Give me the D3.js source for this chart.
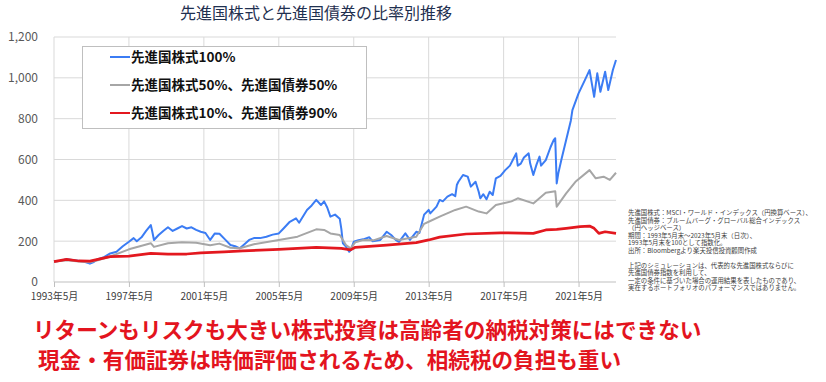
<!DOCTYPE html>
<html><head><meta charset="utf-8">
<script src="https://cdn.jsdelivr.net/npm/d3@7"></script>
<style>
html,body{margin:0;padding:0;background:#fff;}
svg{display:block;font-family:"Noto Sans CJK JP","Noto Sans",sans-serif;}
</style></head>
<body>
<script>
// ---- data ----
const titleText = "先進国株式と先進国債券の比率別推移";
const seriesNames = ["先進国株式100%", "先進国株式50%、先進国債券50%", "先進国株式10%、先進国債券90%"];
const seriesColors = ["#3b7cf4", "#a6a6a6", "#e3181f"];

const stockDates = ["1993-05","1993-09","1994-01","1994-06","1994-12","1995-04","1995-06","1995-09","1996-01","1996-05","1996-09","1997-01","1997-05","1997-08","1997-10","1998-01","1998-04","1998-07","1998-08","1998-09","1998-12","1999-03","1999-06","1999-09","1999-12","2000-03","2000-06","2000-09","2000-12","2001-03","2001-06","2001-09","2001-12","2002-03","2002-07","2002-10","2003-01","2003-04","2003-07","2003-10","2004-01","2004-05","2004-09","2005-01","2005-05","2005-08","2005-12","2006-04","2006-06","2006-11","2007-02","2007-05","2007-08","2007-10","2007-12","2008-02","2008-05","2008-08","2008-09","2008-10","2008-12","2009-02","2009-03","2009-05","2009-08","2009-11","2010-03","2010-05","2010-10","2011-02","2011-05","2011-08","2011-10","2012-02","2012-05","2012-09","2012-11","2013-02","2013-05","2013-06","2013-10","2013-12","2014-02","2014-05","2014-08","2014-10","2014-11","2014-12","2015-03","2015-06","2015-08","2015-11","2016-01","2016-02","2016-04","2016-06","2016-08","2016-10","2016-12","2017-03","2017-06","2017-09","2017-11","2018-01","2018-02","2018-04","2018-06","2018-09","2018-10","2018-12","2019-02","2019-04","2019-05","2019-08","2019-11","2020-01","2020-02","2020-03","2020-04","2020-06","2020-09","2020-12","2021-01","2021-05","2021-09","2021-12","2022-03","2022-05","2022-07","2022-10","2022-12","2023-03","2023-05"];
const stockValues = [100,104,111,106,100,90,96,112,122,140,148,175,197,215,200,219,250,279,245,206,230,250,268,250,262,274,262,268,255,246,240,206,238,236,205,181,175,165,185,206,215,215,222,232,238,262,295,312,290,353,375,402,377,395,365,320,330,310,260,190,173,148,155,197,205,209,219,200,206,246,230,205,197,238,206,246,240,330,353,336,369,402,395,418,430,420,475,491,524,516,467,491,442,410,430,405,442,426,508,520,548,570,600,630,570,580,610,630,580,524,575,614,570,597,660,695,704,483,532,600,695,790,842,924,989,1038,907,1022,932,1030,940,1038,1087];

const balancedDates = ["1993-05","1994-01","1994-09","1995-04","1995-09","1996-05","1997-05","1998-07","1998-09","1999-06","2000-03","2000-12","2001-09","2002-03","2002-10","2003-04","2004-01","2005-05","2006-05","2007-05","2007-10","2008-02","2008-08","2008-12","2009-03","2009-06","2009-11","2010-06","2011-02","2011-10","2012-09","2013-02","2013-05","2013-12","2014-10","2015-05","2016-01","2016-06","2016-12","2017-10","2018-02","2018-12","2019-08","2020-02","2020-03","2020-09","2021-03","2021-12","2022-04","2022-09","2023-01","2023-05"];
const balancedValues = [100,106,101,97,106,125,160,190,172,190,195,192,180,188,168,165,185,206,222,258,255,238,230,181,165,195,206,205,225,206,222,285,295,320,353,369,345,336,377,395,410,385,437,445,369,434,491,548,508,516,500,535];

const bondDates = ["1993-05","1994-01","1994-09","1995-04","1996-05","1997-05","1998-07","1999-06","2000-06","2001-03","2002-06","2003-06","2005-05","2007-05","2008-09","2009-03","2009-06","2011-02","2012-09","2013-05","2013-12","2015-05","2017-03","2018-12","2019-08","2020-03","2020-09","2021-06","2021-12","2022-03","2022-06","2022-10","2023-05"];
const bondValues = [100,111,103,102,124,127,140,137,137,143,148,152,160,170,165,157,170,181,193,206,220,235,241,238,255,258,263,271,274,263,238,246,238];

const yTicks = [0,200,400,600,800,1000,1200];
const xTickDates = ["1993-05","1997-05","2001-05","2005-05","2009-05","2013-05","2017-05","2021-05"];
const xTickLabels = ["1993年5月","1997年5月","2001年5月","2005年5月","2009年5月","2013年5月","2017年5月","2021年5月"];

const noteLines = [
 "先進国株式：MSCI・ワールド・インデックス（円換算ベース）、",
 "先進国債券：ブルームバーグ・グローバル総合インデックス",
 "（円ヘッジベース）",
 "期間：1993年5月末～2023年5月末（日次）、",
 "1993年5月末を100として指数化。",
 "出所：Bloombergより楽天投信投資顧問作成",
 "",
 "上記のシミュレーションは、代表的な先進国株式ならびに",
 "先進国債券指数を利用して、",
 "一定の条件に基づいた場合の運用結果を表したものであり、",
 "実在するポートフォリオのパフォーマンスではありません。"
];
const messageLines = [
 "リターンもリスクも大きい株式投資は高齢者の納税対策にはできない",
 "現金・有価証券は時価評価されるため、相続税の負担も重い"
];

// ---- drawing ----
const W = 826, H = 382;
const parse = d3.timeParse("%Y-%m");
const svg = d3.select("body").append("svg").attr("width", W).attr("height", H);

const x = d3.scaleTime().domain([parse("1993-05"), parse("2023-05")]).range([54, 616]);
const y = d3.scaleLinear().domain([0, 1200]).range([282, 37]);

// title
svg.append("text").attr("x", 316).attr("y", 19).attr("text-anchor", "middle")
  .attr("font-size", 16).attr("fill", "#1f3050").text(titleText);

// gridlines
const g = svg.append("g");
g.selectAll("line.h").data(yTicks.filter(d => d > 0)).join("line")
  .attr("x1", 54).attr("x2", 616).attr("y1", d => y(d)).attr("y2", d => y(d))
  .attr("stroke", "#d9d9d9").attr("stroke-width", 1);
g.selectAll("line.v").data(xTickDates.map(parse)).join("line")
  .attr("x1", d => x(d)).attr("x2", d => x(d)).attr("y1", y(1200)).attr("y2", y(0))
  .attr("stroke", "#d9d9d9").attr("stroke-width", 1);

// y axis labels
const yAxis = d3.axisLeft(y).tickValues(yTicks).tickSize(0).tickPadding(0)
  .tickFormat(d3.format(","));
const ya = svg.append("g").attr("transform", "translate(38,0)").call(yAxis);
ya.select(".domain").remove();
ya.selectAll("text").attr("font-size", 12).attr("fill", "#595959")
  .attr("font-family", "'Noto Sans CJK JP', sans-serif");

// x axis
const xAxis = d3.axisBottom(x).tickValues(xTickDates.map(parse)).tickSize(5).tickPadding(6)
  .tickFormat((d, i) => xTickLabels[i]);
const xa = svg.append("g").attr("transform", `translate(0,${y(0)})`).call(xAxis);
xa.select(".domain").attr("stroke", "#bfbfbf").attr("d", `M54,0H616`);
xa.selectAll(".tick line").attr("stroke", "#bfbfbf");
xa.selectAll("text").attr("font-size", 10).attr("fill", "#404040")
  .attr("font-family", "'Noto Sans CJK JP', sans-serif");

// lines
const line = d3.line().x(d => x(d[0])).y(d => y(d[1])).curve(d3.curveLinear);
const series = [
  {dates: stockDates, vals: stockValues, c: seriesColors[0], w: 2},
  {dates: balancedDates, vals: balancedValues, c: seriesColors[1], w: 2},
  {dates: bondDates, vals: bondValues, c: seriesColors[2], w: 2.7},
];
series.forEach(s => {
  svg.append("path").datum(s.dates.map((d, i) => [parse(d), s.vals[i]]))
    .attr("d", line).attr("fill", "none").attr("stroke", s.c)
    .attr("stroke-width", s.w).attr("stroke-linejoin", "round");
});

// legend
const lg = svg.append("g");
lg.append("rect").attr("x", 82.5).attr("y", 46.5).attr("width", 284).attr("height", 82)
  .attr("fill", "#fff").attr("stroke", "#bfbfbf");
const legendY = [57, 85, 113];
seriesNames.forEach((n, i) => {
  lg.append("line").attr("x1", 110).attr("x2", 130).attr("y1", legendY[i]).attr("y2", legendY[i])
    .attr("stroke", seriesColors[i]).attr("stroke-width", 2);
  lg.append("text").attr("x", 131).attr("y", legendY[i] + 5).attr("font-size", 13.5)
    .attr("font-weight", "bold").attr("fill", "#111").text(n);
});

// notes
svg.append("g").selectAll("text").data(noteLines).join("text")
  .attr("x", 628).attr("y", (d, i) => 215 + i * 7.5)
  .attr("font-size", 6.4).attr("fill", "#404040").text(d => d);

// message
svg.append("text").attr("x", 33).attr("y", 338).attr("font-size", 21.6)
  .attr("font-weight", "bold").attr("fill", "#e3141e").text(messageLines[0]);
svg.append("text").attr("x", 38).attr("y", 368).attr("font-size", 21.6)
  .attr("font-weight", "bold").attr("fill", "#e3141e").text(messageLines[1]);
</script>
</body></html>
